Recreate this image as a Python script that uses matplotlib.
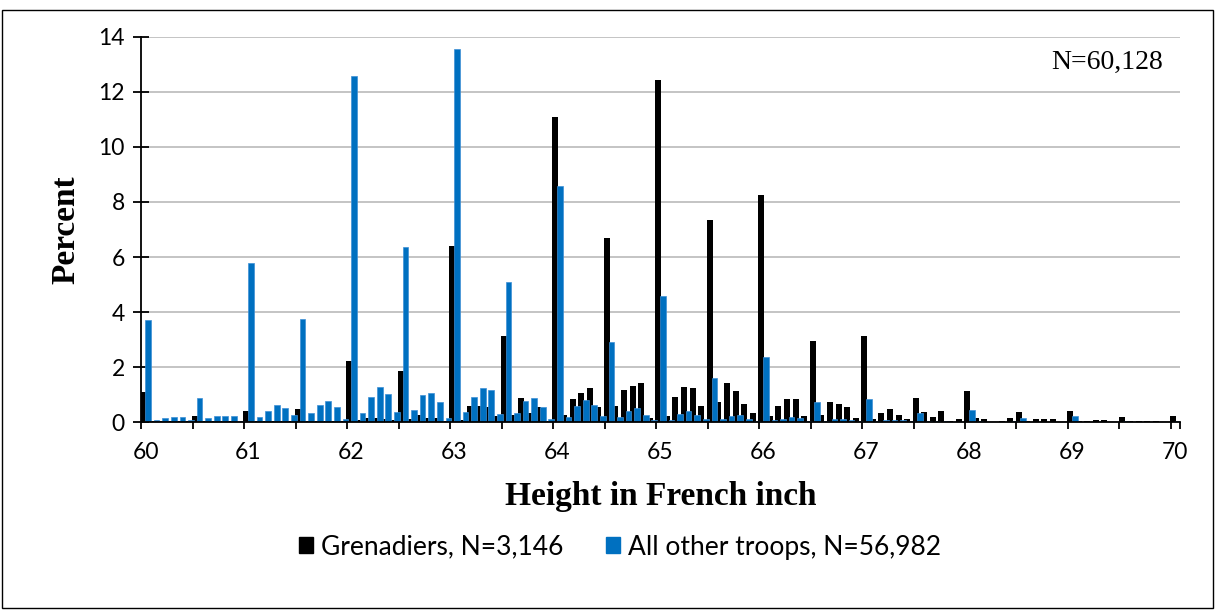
import numpy as np
import matplotlib
matplotlib.use("Agg")
import matplotlib.pyplot as plt
from matplotlib.patches import Rectangle, Patch

# Heights in French inches, in steps of one ligne (1/12 inch), 60 .. 70
heights = [60 + i / 12 for i in range(121)]

grenadiers = [
    1.10, 0.03, 0.03, 0.03, 0.03, 0.03, 0.24, 0.03, 0.03, 0.03, 0.03, 0.02,
    0.40, 0.03, 0.03, 0.03, 0.03, 0.03, 0.50, 0.03, 0.03, 0.03, 0.03, 0.03,
    2.22, 0.08, 0.16, 0.16, 0.12, 0.08, 1.88, 0.12, 0.28, 0.14, 0.15, 0.05,
    6.39, 0.08, 0.59, 0.59, 0.55, 0.24, 3.15, 0.25, 0.88, 0.32, 0.57, 0.05,
    11.10, 0.25, 0.84, 1.05, 1.24, 0.55, 6.68, 0.59, 1.17, 1.33, 1.41, 0.15,
    12.44, 0.22, 0.92, 1.27, 1.24, 0.59, 7.35, 0.73, 1.41, 1.12, 0.67, 0.32,
    8.24, 0.23, 0.59, 0.84, 0.84, 0.23, 2.96, 0.25, 0.73, 0.67, 0.55, 0.16,
    3.15, 0.11, 0.32, 0.48, 0.25, 0.11, 0.89, 0.37, 0.19, 0.41, 0.06, 0.12,
    1.14, 0.14, 0.12, 0.02, 0.03, 0.16, 0.36, 0.03, 0.11, 0.11, 0.11, 0.02,
    0.40, 0.03, 0.06, 0.08, 0.08, 0.02, 0.19, 0.03, 0.03, 0.03, 0.03, 0.02,
    0.24,
]

other_troops = [
    3.72, 0.07, 0.16, 0.18, 0.18, 0.10, 0.90, 0.16, 0.22, 0.22, 0.22, 0.06,
    5.78, 0.18, 0.41, 0.62, 0.51, 0.26, 3.74, 0.32, 0.64, 0.77, 0.56, 0.12,
    12.57, 0.34, 0.91, 1.27, 1.01, 0.38, 6.35, 0.43, 0.99, 1.08, 0.75, 0.14,
    13.54, 0.38, 0.92, 1.25, 1.19, 0.31, 5.09, 0.33, 0.78, 0.87, 0.57, 0.12,
    8.57, 0.20, 0.58, 0.80, 0.62, 0.23, 2.93, 0.19, 0.42, 0.52, 0.28, 0.08,
    4.57, 0.09, 0.29, 0.42, 0.28, 0.12, 1.60, 0.12, 0.23, 0.27, 0.12, 0.06,
    2.37, 0.07, 0.12, 0.18, 0.16, 0.05, 0.73, 0.06, 0.12, 0.12, 0.08, 0.06,
    0.84, 0.04, 0.07, 0.08, 0.08, 0.03, 0.32, 0.05, 0.03, 0.03, 0.02, 0.02,
    0.46, 0.03, 0.02, 0.02, 0.02, 0.03, 0.14, 0.02, 0.02, 0.02, 0.02, 0.02,
    0.22, 0.02, 0.02, 0.02, 0.02, 0.02, 0.04, 0.02, 0.02, 0.02, 0.02, 0.02,
    0.06,
]

tick_values = [60, 61, 62, 63, 64, 65, 66, 67, 68, 69, 70]
tick_labels = [str(v) for v in tick_values]
y_ticks = [0, 2, 4, 6, 8, 10, 12, 14]

label_gren = "Grenadiers, N=3,146"
label_other = "All other troops, N=56,982"
annotation = "N=60,128"

BLACK = "#000000"
BLUE = "#0070C0"
GRID = "#BFBFBF"
SANS = ["Lato", "DejaVu Sans"]
SERIF = ["Liberation Serif", "DejaVu Serif"]

fig = plt.figure(figsize=(12.15, 6.10), dpi=100)
ax = fig.add_axes([0.1163, 0.3077, 0.8545, 0.6321])

cat = 1 / 12
x = np.array(heights)
ax.bar(x - 0.244 * cat, grenadiers, width=0.70 * cat, color=BLACK,
       linewidth=0, zorder=3)
ax.bar(x + 0.287 * cat, other_troops, width=0.664 * cat, color=BLUE,
       edgecolor="#3d8fd6", linewidth=0.5, zorder=4)

ax.set_xlim(60 - cat / 2, 70 + cat / 2)
ax.set_ylim(0, 14)

ax.set_xticks(tick_values)
ax.set_xticklabels(tick_labels, fontfamily=SANS, fontsize=16.5)
ax.set_xticks([60 - cat / 2 + 0.5 * j for j in range(21)] + [70 + cat / 2 - 1e-9], minor=True)
ax.tick_params(axis="x", which="major", length=0, pad=14)
ax.tick_params(axis="x", which="minor", direction="out", length=5, width=1.3,
               color=BLACK)

ax.set_yticks(y_ticks)
ax.set_yticklabels([str(v) for v in y_ticks], fontfamily=SANS, fontsize=16.5)
ax.tick_params(axis="y", direction="inout", length=12, width=1.3, pad=6,
               color=BLACK)

ax.yaxis.grid(True, color=GRID, linewidth=1.3, zorder=0)
ax.set_axisbelow(True)
for s in ["top", "right"]:
    ax.spines[s].set_visible(False)
for s in ["left", "bottom"]:
    ax.spines[s].set_linewidth(1.3)
    ax.spines[s].set_color(BLACK)
    ax.spines[s].set_zorder(5)

ax.set_xlabel("Height in French inch", fontfamily=SERIF, fontweight="bold",
              fontsize=24, labelpad=13)
ax.set_ylabel("Percent", fontfamily=SERIF, fontweight="bold", fontsize=24,
              labelpad=12)

ax.text(0.984, 0.965, annotation, transform=ax.transAxes, ha="right",
        va="top", fontfamily=SERIF, fontsize=20)

handles = [Patch(facecolor=BLACK, edgecolor=BLACK),
           Patch(facecolor=BLUE, edgecolor=BLUE)]
fig.legend(handles, [label_gren, label_other], loc="center",
           bbox_to_anchor=(620 / 1215, 1 - 547 / 610), ncol=2, frameon=False,
           prop={"family": SANS, "size": 19}, handlelength=0.55,
           handleheight=0.55, handletextpad=0.3, columnspacing=1.6)

fig.patches.append(Rectangle((2 / 1215, 2 / 610), 1211 / 1215, 598 / 610,
                             transform=fig.transFigure, fill=False,
                             edgecolor=BLACK, linewidth=1.0))

fig.savefig("out.png", dpi=100, facecolor="white")
